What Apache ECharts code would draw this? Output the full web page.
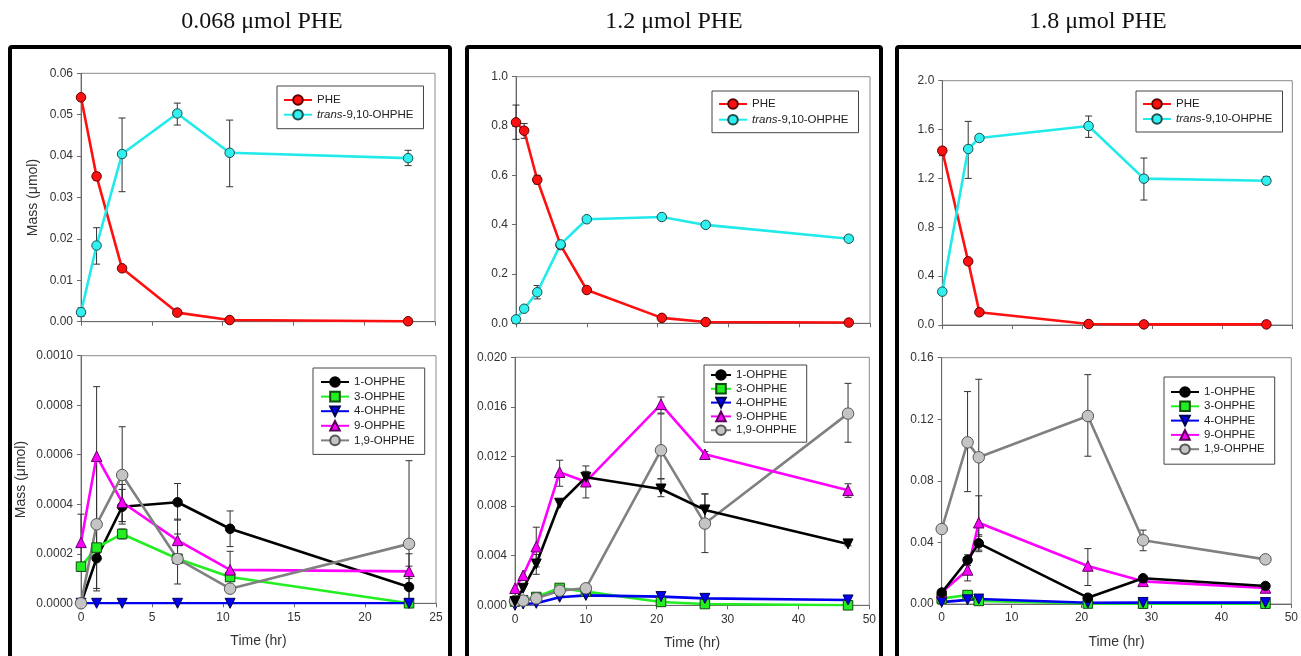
<!DOCTYPE html>
<html><head><meta charset="utf-8">
<script src="https://cdn.jsdelivr.net/npm/echarts@6/dist/echarts.min.js"></script>
<style>html,body{margin:0;padding:0;background:#fff}#c{width:1301px;height:656px}</style>
</head><body><div id="c"></div>
<script>
// ---------- DATA ----------
const panelTitles = ['0.068 \u03bcmol PHE', '1.2 \u03bcmol PHE', '1.8 \u03bcmol PHE'];
const topNames = ['PHE', 'trans-9,10-OHPHE'];
const botNames = ['1-OHPHE', '3-OHPHE', '4-OHPHE', '9-OHPHE', '1,9-OHPHE'];

// Panel A (0.068 umol)
const timeA = [0, 1.1, 2.9, 6.8, 10.5, 23.1];
const pheA = [0.0542, 0.0351, 0.0129, 0.0022, 0.0004, 0.0001];
const pheAErr = [[0.0537, 0.0547], [0.0342, 0.0360], null, null, null, null];
const transA = [0.0023, 0.0184, 0.0405, 0.0503, 0.0408, 0.0395];
const transAErr = [[0.0013, 0.0033], [0.0139, 0.0227], [0.0314, 0.0492], [0.0475, 0.0528], [0.0326, 0.0487], [0.0377, 0.0414]];
const oh1A = [0, 0.000182, 0.00039, 0.000408, 0.000301, 0.000066];
const oh1AErr = [null, [0.00005, 0.00031], [0.00033, 0.00046], [0.000336, 0.000484], [0.000229, 0.000373], [0, 0.0002]];
const oh3A = [0.000148, 0.000225, 0.00028, 0.00018, 0.000106, 0];
const oh3AErr = [null, null, [0.00026, 0.0003], null, [0.00009, 0.00012], null];
const oh4A = [0, 0, 0, 0, 0, 0];
const oh9A = [0.000246, 0.000594, 0.000408, 0.000254, 0.000135, 0.000129];
const oh9AErr = [[0.00013, 0.00036], [0.00031, 0.000875], [0.00033, 0.00048], [0.00017, 0.00034], [0.00006, 0.00021], [0.0001, 0.00015]];
const oh19A = [0, 0.000319, 0.000518, 0.000179, 0.000059, 0.00024];
const oh19AErr = [null, [0.00006, 0.00058], [0.00032, 0.000713], [0.000078, 0.00028], null, [0, 0.000576]];

// Panel B (1.2 umol)
const timeB = [0, 1.15, 3.0, 6.3, 10, 20.6, 26.8, 47];
const pheB = [0.815, 0.781, 0.582, 0.317, 0.135, 0.022, 0.005, 0.003];
const pheBErr = [[0.746, 0.885], [0.75, 0.81], [0.565, 0.6], [0.305, 0.33], null, null, null, null];
const transB = [0.016, 0.059, 0.126, 0.32, 0.422, 0.431, 0.399, 0.343];
const transBErr = [null, null, [0.099, 0.153], null, null, [0.42, 0.442], [0.39, 0.408], null];
const oh1B = [0.0003, 0.00137, 0.00333, 0.00823, 0.01032, 0.00938, 0.00769, 0.00495];
const oh1BErr = [null, null, [0.0025, 0.0041], null, [0.00957, 0.01124], [0.00876, 0.0102], [0.00656, 0.00898], [0.0048, 0.0051]];
const oh3B = [0.0003, 0.0004, 0.00067, 0.0014, 0.0011, 0.00027, 0.0001, 0];
const oh3BErr = [null, null, null, null, null, null, null, null];
const oh4B = [0, 0.0001, 0.00016, 0.00065, 0.0008, 0.0007, 0.00056, 0.00043];
const oh9B = [0.00137, 0.00242, 0.00473, 0.01073, 0.00997, 0.01621, 0.01218, 0.00927];
const oh9BErr = [null, null, [0.0031, 0.0063], [0.0096, 0.0117], [0.00866, 0.0108], [0.0155, 0.0168], [0.012, 0.0124], [0.0087, 0.0098]];
const oh19B = [0.00035, 0.00038, 0.00056, 0.00118, 0.00137, 0.0125, 0.00659, 0.01546];
const oh19BErr = [null, null, null, null, null, [0.0102, 0.01543], [0.00425, 0.00898], [0.01315, 0.0179]];

// Panel C (1.8 umol)
const timeC = [0, 3.7, 5.3, 20.9, 28.8, 46.3];
const pheC = [1.427, 0.521, 0.104, 0.008, 0.005, 0.005];
const pheCErr = [[1.386, 1.454], [0.505, 0.535], null, null, null, null];
const transC = [0.273, 1.441, 1.531, 1.629, 1.198, 1.181];
const transCErr = [[0.25, 0.29], [1.2, 1.667], null, [1.536, 1.711], [1.023, 1.367], [1.154, 1.214]];
const oh1C = [0.0074, 0.0286, 0.0394, 0.0041, 0.0167, 0.0117];
const oh1CErr = [null, [0.025, 0.032], [0.034, 0.045], null, null, null];
const oh3C = [0.0035, 0.0058, 0.002, 0.0003, 0.0002, 0.0002];
const oh4C = [0.0012, 0.0027, 0.0032, 0.0008, 0.001, 0.0009];
const oh9C = [0.0076, 0.0221, 0.0528, 0.0247, 0.0147, 0.0104];
const oh9CErr = [null, [0.015, 0.03], [0.035, 0.0703], [0.012, 0.036], null, null];
const oh19C = [0.0487, 0.105, 0.0953, 0.1221, 0.0414, 0.029];
const oh19CErr = [null, [0.073, 0.138], [0.044, 0.146], [0.096, 0.149], [0.0346, 0.048], null];

// axis settings
const yMax = [0.06, 0.001, 1.0, 0.02, 2.0, 0.16];
const yStep = [0.01, 0.0002, 0.2, 0.004, 0.4, 0.04];
const yDec = [2, 4, 1, 3, 1, 2];
const xMax = [25, 25, 50, 50, 50, 50];
const xStep = [5, 5, 10, 10, 10, 10];

// ---------- LAYOUT / STYLE ----------
const SANS = 'Liberation Sans, Arial, sans-serif';
const grids = [
  {left: 81, top: 73.3, width: 354, height: 248.4},
  {left: 81, top: 355.7, width: 355, height: 247.6},
  {left: 516, top: 76.7, width: 354, height: 246.6},
  {left: 515, top: 357.3, width: 354.3, height: 248},
  {left: 942.3, top: 80.7, width: 350, height: 244.3},
  {left: 941.7, top: 357.7, width: 351.6, height: 246.3}
];
const styles = {
  'PHE': {line: '#ff1010', fill: '#ff1010', border: '#5a0000', symbol: 'circle', size: 9.5},
  'trans-9,10-OHPHE': {line: '#20eaea', fill: '#30f0f0', border: '#1d4d4d', symbol: 'circle', size: 9.5},
  '1-OHPHE': {line: '#000000', fill: '#000000', border: '#000000', symbol: 'circle', size: 9.5},
  '3-OHPHE': {line: '#22ee22', fill: '#22ee22', border: '#0d4d0d', symbol: 'rect', size: 9.5},
  '4-OHPHE': {line: '#0000ee', fill: '#0000ee', border: '#000055', symbol: 'triangle', size: 10, rotate: 180},
  '9-OHPHE': {line: '#ff00ff', fill: '#ff00ff', border: '#5a005a', symbol: 'triangle', size: 10.5},
  '1,9-OHPHE': {line: '#808080', fill: '#c4c4c4', border: '#555555', symbol: 'circle', size: 11.5}
};

const series = [];
function addLine(name, times, vals, gi, override) {
  const s = Object.assign({}, styles[name], override || {});
  series.push({
    type: 'line', name: name, xAxisIndex: gi, yAxisIndex: gi,
    data: times.map((t, i) => [t, vals[i]]),
    symbol: s.symbol, symbolSize: s.size, symbolRotate: s.rotate || 0,
    lineStyle: {color: s.line, width: 2.6},
    itemStyle: {color: s.fill, borderColor: s.border, borderWidth: 1},
    z: 3, animation: false
  });
}
function addErr(times, errs, gi) {
  const d = [];
  times.forEach((t, i) => { if (errs[i]) d.push([t, errs[i][0], errs[i][1]]); });
  series.push({
    type: 'custom', name: 'err', xAxisIndex: gi, yAxisIndex: gi, z: 2,
    encode: {x: 0, y: [1, 2]}, data: d, animation: false, silent: true,
    renderItem: function (params, api) {
      const x = api.value(0), lo = api.value(1), hi = api.value(2);
      const p1 = api.coord([x, lo]), p2 = api.coord([x, hi]);
      const w = 3.5, st = {stroke: '#303030', lineWidth: 1};
      return {type: 'group', children: [
        {type: 'line', shape: {x1: p1[0], y1: p1[1], x2: p2[0], y2: p2[1]}, style: st},
        {type: 'line', shape: {x1: p1[0] - w, y1: p1[1], x2: p1[0] + w, y2: p1[1]}, style: st},
        {type: 'line', shape: {x1: p2[0] - w, y1: p2[1], x2: p2[0] + w, y2: p2[1]}, style: st}
      ]};
    }
  });
}

// Panel A
addErr(timeA, pheAErr, 0); addErr(timeA, transAErr, 0);
addLine('PHE', timeA, pheA, 0); addLine('trans-9,10-OHPHE', timeA, transA, 0);
addErr(timeA, oh1AErr, 1); addErr(timeA, oh3AErr, 1); addErr(timeA, oh9AErr, 1); addErr(timeA, oh19AErr, 1);
addLine('1-OHPHE', timeA, oh1A, 1); addLine('3-OHPHE', timeA, oh3A, 1); addLine('4-OHPHE', timeA, oh4A, 1);
addLine('9-OHPHE', timeA, oh9A, 1); addLine('1,9-OHPHE', timeA, oh19A, 1);
// Panel B
addErr(timeB, pheBErr, 2); addErr(timeB, transBErr, 2);
addLine('PHE', timeB, pheB, 2); addLine('trans-9,10-OHPHE', timeB, transB, 2);
addErr(timeB, oh1BErr, 3); addErr(timeB, oh3BErr, 3); addErr(timeB, oh9BErr, 3); addErr(timeB, oh19BErr, 3);
addLine('3-OHPHE', timeB, oh3B, 3); addLine('4-OHPHE', timeB, oh4B, 3);
addLine('1,9-OHPHE', timeB, oh19B, 3); addLine('9-OHPHE', timeB, oh9B, 3);
addLine('1-OHPHE', timeB, oh1B, 3, {symbol: 'triangle', rotate: 180, size: 10});
// Panel C
addErr(timeC, pheCErr, 4); addErr(timeC, transCErr, 4);
addLine('PHE', timeC, pheC, 4); addLine('trans-9,10-OHPHE', timeC, transC, 4);
addErr(timeC, oh1CErr, 5); addErr(timeC, oh9CErr, 5); addErr(timeC, oh19CErr, 5);
addLine('1,9-OHPHE', timeC, oh19C, 5); addLine('3-OHPHE', timeC, oh3C, 5); addLine('4-OHPHE', timeC, oh4C, 5);
addLine('9-OHPHE', timeC, oh9C, 5); addLine('1-OHPHE', timeC, oh1C, 5);

const xAxes = grids.map((g, i) => ({
  type: 'value', gridIndex: i, min: 0, max: xMax[i], interval: xStep[i],
  axisLine: {show: true, lineStyle: {color: '#6a6a6a', width: 1}},
  axisTick: {show: true, inside: false, length: 4, lineStyle: {color: '#6a6a6a'}},
  axisLabel: {show: i % 2 === 1, color: '#333', fontFamily: SANS, fontSize: 12, margin: 8},
  splitLine: {show: false},
  name: i % 2 === 1 ? 'Time (hr)' : '', nameLocation: 'middle', nameGap: 31,
  nameTextStyle: {color: '#333', fontFamily: SANS, fontSize: 14}
}));
const yAxes = grids.map((g, i) => ({
  type: 'value', gridIndex: i, min: 0, max: yMax[i], interval: yStep[i],
  axisLine: {show: true, lineStyle: {color: '#6a6a6a', width: 1}},
  axisTick: {show: true, inside: false, length: 4, lineStyle: {color: '#6a6a6a'}},
  axisLabel: {color: '#333', fontFamily: SANS, fontSize: 12, margin: 8,
    formatter: (v) => v.toFixed(yDec[i])},
  splitLine: {show: false},
  name: i < 2 ? 'Mass (\u03bcmol)' : '', nameLocation: 'middle', nameGap: i === 0 ? 41 : 53,
  nameTextStyle: {color: '#333', fontFamily: SANS, fontSize: 14}
}));

function legend(names, left, top, itemWidth, gap, fontSize, pad) {
  return {
    data: names, orient: 'vertical', left: left, top: top,
    itemWidth: itemWidth, itemHeight: 12, itemGap: gap,
    padding: pad, borderColor: '#444', borderWidth: 1, backgroundColor: '#fff',
    selectedMode: false,
    formatter: (n) => n === 'trans-9,10-OHPHE' ? '{it|trans}-9,10-OHPHE' : n,
    textStyle: {color: '#222', fontFamily: SANS, fontSize: fontSize, lineHeight: 12,
      rich: {it: {fontStyle: 'italic', fontFamily: SANS, fontSize: fontSize, color: '#222'}}}
  };
}
const legends = [
  legend(topNames, 277, 86, 28, 2.7, 11.5, [8, 10, 8, 6]),
  legend(botNames, 313, 368, 28, 2.6, 11.5, [8, 10, 8, 7]),
  legend(topNames, 712, 91, 28, 3.7, 11.5, [7, 10, 7, 6]),
  legend(botNames, 704, 365, 20, 1.8, 11.5, [4, 10, 6, 6]),
  legend(topNames, 1136, 91, 28, 3, 11.5, [7, 10, 7, 6]),
  legend(botNames, 1164, 377, 28, 2.3, 11.5, [9, 10, 9, 6])
];

const titleX = [262, 674, 1098];
const graphics = [];
titleX.forEach((x, i) => graphics.push({
  type: 'text', x: x, y: 22, z: 10,
  style: {text: panelTitles[i], x: 0, y: 0, textAlign: 'center', textVerticalAlign: 'middle',
    font: '24px "Liberation Serif", "Times New Roman", serif', fill: '#111'}
}));
[[10, 440], [467, 414], [897, 500]].forEach(([x, w]) => graphics.push({
  type: 'rect', x: 0, y: 0, z: 0, silent: true,
  shape: {x: x, y: 47, width: w, height: 700, r: 2},
  style: {fill: 'none', stroke: '#000', lineWidth: 4}
}));

const chart = echarts.init(document.getElementById('c'), null, {renderer: 'canvas'});
chart.setOption({
  animation: false,
  backgroundColor: '#fff',
  grid: grids.map(g => Object.assign({show: true, borderColor: '#8a8a8a', borderWidth: 1, backgroundColor: 'transparent'}, g)),
  xAxis: xAxes,
  yAxis: yAxes,
  legend: legends,
  graphic: graphics,
  series: series
});
</script></body></html>
